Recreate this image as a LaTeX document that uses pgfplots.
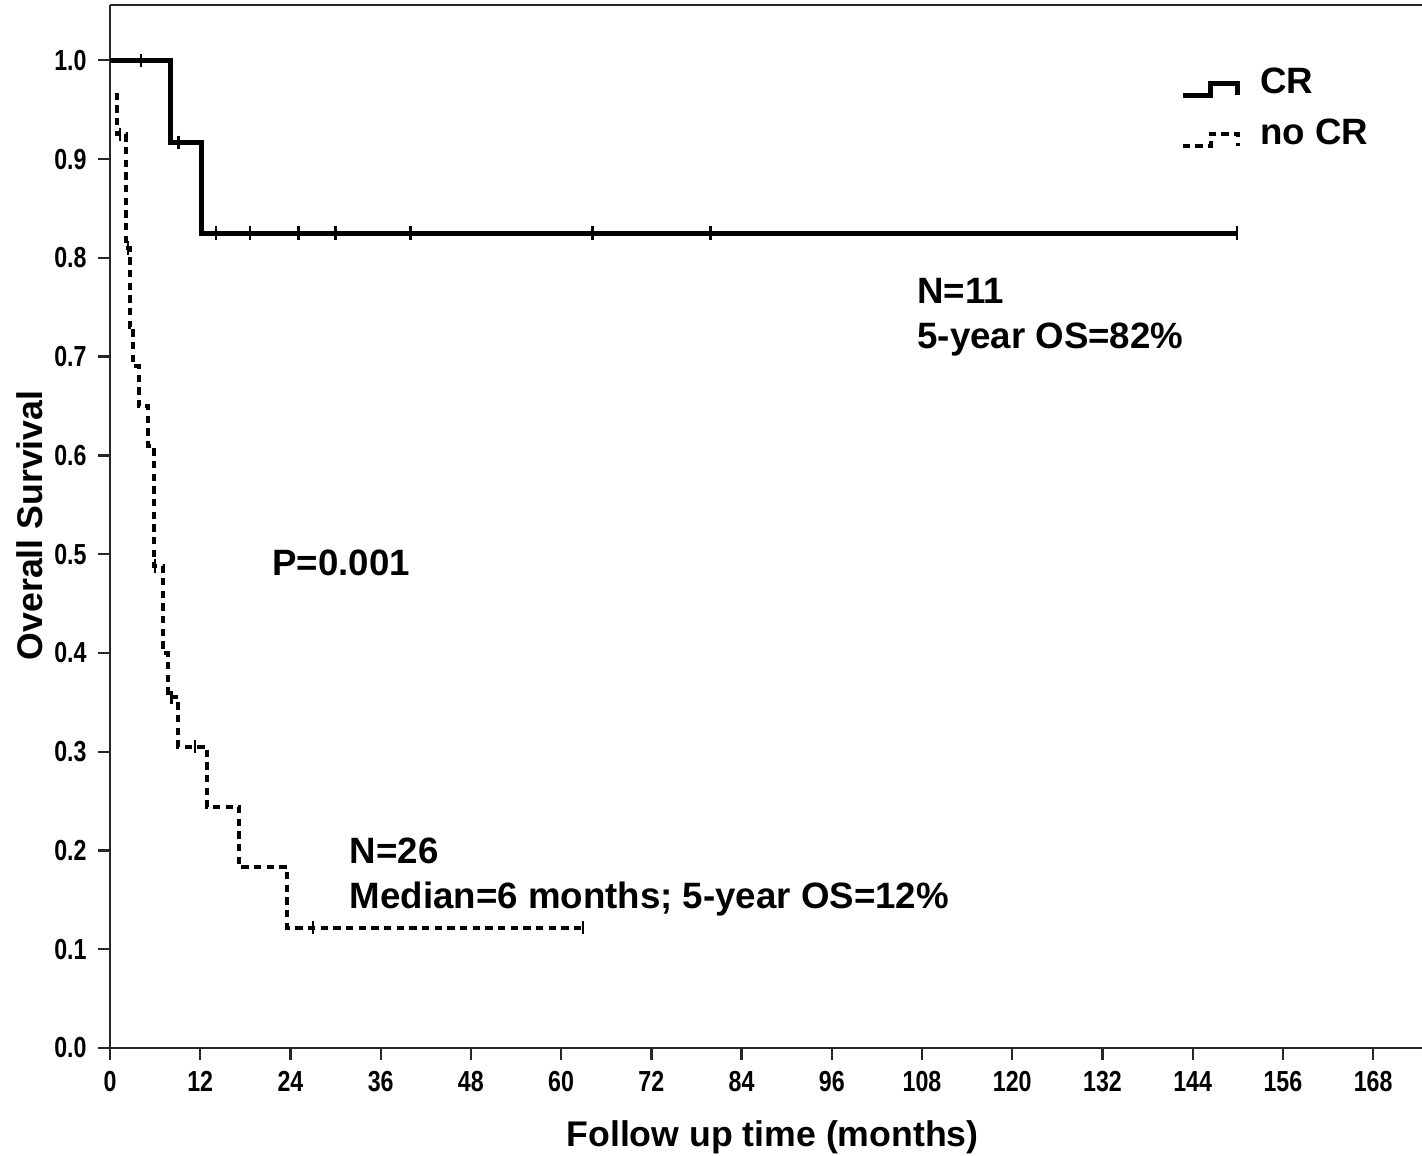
\documentclass[border=0pt]{standalone}
\usepackage{fontspec}
\setmainfont{Liberation Sans}
\newfontfamily\narrowfont[FakeStretch=0.8]{Liberation Sans}
\usepackage{pgfplots}
\pgfplotsset{compat=1.18}

\begin{document}
\begin{tikzpicture}
\begin{axis}[
scale only axis,width=393.6bp,height=312.9bp,
xmin=0,xmax=174.5,ymin=0,ymax=1.056,
axis x line*=box,axis y line*=left,
axis line style={-,line width=0.7bp,black!85},
xtick={0,12,24,36,48,60,72,84,96,108,120,132,144,156,168},
ytick={0,0.1,0.2,0.3,0.4,0.5,0.6,0.7,0.8,0.9,1.0},
xtick pos=left,ytick pos=left,
tick align=outside,major tick length=3.5bp,
tick style={black!85,line width=0.7bp},
/pgf/number format/assume math mode=true,
tick label style={font=\narrowfont\bfseries\fontsize{8.7bp}{10bp}\selectfont},
yticklabel style={/pgf/number format/.cd,fixed,fixed zerofill,precision=1},
label style={font=\bfseries\fontsize{10.7bp}{13.5bp}\selectfont},
xlabel={Follow up time (months)},
ylabel={Overall Survival},
xlabel style={at={(axis description cs:0.505,-0.0853)},anchor=center},
ylabel style={at={(axis description cs:-0.061,0.501)},anchor=center},
legend image code/.code={\draw[#1] (0bp,-3.6bp) -- (8.4bp,-3.6bp) -- (8.4bp,0bp) -- (16.5bp,0bp) -- (16.5bp,-3.6bp);},
legend style={at={(0.8075,0.953)},anchor=north west,draw=none,fill=none,
  font=\bfseries\fontsize{11bp}{13.5bp}\selectfont,
  row sep=2bp,/tikz/every odd column/.style={column sep=4bp}},
legend cell align=left,
]
% CR
\addplot[black,line width=1.5bp,const plot,forget plot] coordinates {
(0,1.0)(8.1,0.917)(12.2,0.825)(150,0.825)};
\addplot[black,only marks,mark=|,mark size=2bp,mark options={line width=0.75bp},forget plot] coordinates {
(4.1,1.0)(9.1,0.917)(14.1,0.825)(18.6,0.825)(25.1,0.825)(30,0.825)(40,0.825)(64.2,0.825)(79.9,0.825)(149.9,0.825)};
% no CR
\addplot[black,line width=1.2bp,dash pattern=on 2.2bp off 1.6bp,const plot,forget plot] coordinates {
(0.6,0.965)(0.9,0.925)(2.1,0.81)(2.6,0.73)(3.1,0.69)(3.8,0.65)(5.1,0.61)(5.8,0.488)
(7.1,0.40)(7.7,0.355)(9.1,0.305)(12.9,0.244)(17.2,0.183)(23.6,0.122)(62.9,0.122)};
\addplot[black,only marks,mark=|,mark size=2bp,mark options={line width=0.75bp},forget plot] coordinates {
(1.3,0.925)(2.4,0.81)(6.0,0.488)(8.2,0.355)(11.3,0.305)(27.0,0.122)(62.9,0.122)};
\addlegendimage{black,line width=1.5bp}
\addlegendentry{CR}
\addlegendimage{black,line width=1.2bp,dash pattern=on 2.2bp off 1.6bp}
\addlegendentry{no CR}
\node[anchor=north west,align=left,inner sep=0pt,font=\bfseries\fontsize{11bp}{13.5bp}\selectfont] at (axis cs:107.3,0.78) {N=11\\5-year OS=82\%};
\node[anchor=north west,inner sep=0pt,font=\bfseries\fontsize{11bp}{13.5bp}\selectfont] at (axis cs:21.5,0.505) {P=0.001};
\node[anchor=north west,align=left,inner sep=0pt,font=\bfseries\fontsize{11bp}{13.5bp}\selectfont] at (axis cs:31.8,0.2136) {N=26\\Median=6 months; 5-year OS=12\%};
\end{axis}
\pgfresetboundingbox
\useasboundingbox ([xshift=-33bp,yshift=-32.4bp]current axis.south west) rectangle ([yshift=1.5bp]current axis.north east);
\end{tikzpicture}
\end{document}
